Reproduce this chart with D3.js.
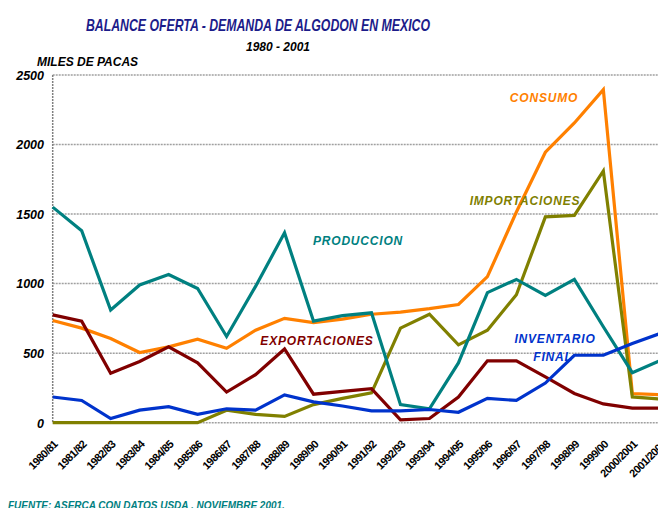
<!DOCTYPE html>
<html>
<head>
<meta charset="utf-8">
<script src="https://cdn.jsdelivr.net/npm/d3@7"></script>
<style>
  body { margin: 0; background: #fff; }
  svg { display: block; font-family: "Liberation Sans", Arial, sans-serif; }
</style>
</head>
<body>
<svg id="chart" width="658" height="508"></svg>
<script>
// ciclos agricolas
var ciclos = ["1980/81","1981/82","1982/83","1983/84","1984/85","1985/86","1986/87","1987/88",
  "1988/89","1989/90","1990/91","1991/92","1992/93","1993/94","1994/95","1995/96","1996/97",
  "1997/98","1998/99","1999/00","2000/2001","2001/2002"];

// miles de pacas
var produccion    = [1550,1380,810,990,1065,965,620,980,1365,730,770,790,130,100,430,935,1030,915,1030,690,360,450];
var consumo       = [735,680,605,505,545,600,535,665,750,720,745,780,795,820,850,1050,1515,1945,2155,2395,210,200];
var importaciones = [0,0,0,0,0,0,90,60,45,130,175,215,680,780,560,665,920,1480,1490,1810,185,170];
var exportaciones = [775,730,355,440,545,430,220,345,530,205,225,245,20,30,185,445,445,330,210,135,105,105];
var inventario    = [185,160,30,90,115,60,100,90,200,150,120,85,85,95,75,175,160,285,485,485,570,645];

var yTicks = [0,500,1000,1500,2000,2500];

var svg = d3.select("#chart");

var x = d3.scalePoint().domain(ciclos).range([52.7, 661.3]);
var y = d3.scaleLinear().domain([0, 2500]).range([422.7, 75]);

// titulos
svg.append("text")
  .attr("x", 258).attr("y", 30.5)
  .attr("text-anchor", "middle")
  .style("font-size", "17px").style("font-weight", "bold").style("font-style", "italic")
  .style("fill", "#1c1c8a")
  .attr("textLength", 344).attr("lengthAdjust", "spacingAndGlyphs")
  .text("BALANCE OFERTA - DEMANDA DE ALGODON EN MEXICO");

svg.append("text")
  .attr("x", 278).attr("y", 50.5)
  .attr("text-anchor", "middle")
  .style("font-size", "12px").style("font-weight", "bold").style("font-style", "italic")
  .text("1980 - 2001");

svg.append("text")
  .attr("x", 37).attr("y", 66)
  .style("font-size", "12px").style("font-weight", "bold").style("font-style", "italic")
  .text("MILES DE PACAS");

// rejilla
var grid = svg.append("g");
grid.selectAll("line")
  .data(yTicks)
  .enter().append("line")
  .attr("x1", 52.7).attr("x2", 658)
  .attr("y1", function (d) { return y(d); })
  .attr("y2", function (d) { return y(d); })
  .style("stroke", "#a0a0a0").style("stroke-width", 1.5)
  .style("stroke-dasharray", "2,1");

grid.append("line")
  .attr("x1", 52.7).attr("x2", 52.7)
  .attr("y1", y(2500)).attr("y2", y(0))
  .style("stroke", "#808080").style("stroke-width", 1.5)
  .style("stroke-dasharray", "2,1");

// eje y
var yAxis = svg.append("g")
  .attr("transform", "translate(44,0)")
  .call(d3.axisLeft(y).tickValues(yTicks).tickFormat(d3.format("d")).tickSize(0).tickPadding(0));
yAxis.select(".domain").remove();
yAxis.selectAll("text")
  .attr("dy", "0.35em")
  .style("font-family", "'Liberation Sans', Arial, sans-serif")
  .style("font-size", "12.5px").style("font-weight", "bold").style("font-style", "italic")
  .style("fill", "#000");

// eje x
var xAxis = svg.append("g")
  .attr("transform", "translate(0,440)")
  .call(d3.axisBottom(x).tickSize(0).tickPadding(0));
xAxis.select(".domain").remove();
xAxis.selectAll("text")
  .attr("text-anchor", "end")
  .attr("y", 0)
  .attr("dy", "0")
  .attr("transform", "translate(5,5) rotate(-45)")
  .style("font-family", "'Liberation Sans', Arial, sans-serif")
  .style("font-size", "11px").style("font-weight", "bold")
  .style("letter-spacing", "-0.6px")
  .style("fill", "#000");

// series
var series = [
  { name: "consumo", values: consumo, color: "#ff8000" },
  { name: "importaciones", values: importaciones, color: "#808000" },
  { name: "produccion", values: produccion, color: "#008080" },
  { name: "exportaciones", values: exportaciones, color: "#800000" },
  { name: "inventario", values: inventario, color: "#0033cc" }
];

var line = d3.line()
  .x(function (d, i) { return x(ciclos[i]); })
  .y(function (d) { return y(d); });

svg.append("g").selectAll("path")
  .data(series)
  .enter().append("path")
  .attr("d", function (d) { return line(d.values); })
  .style("fill", "none")
  .style("stroke", function (d) { return d.color; })
  .style("stroke-width", 3.2)
  .style("stroke-linejoin", "miter");

// etiquetas de series
var etiquetas = [
  { t: "CONSUMO", x: 544, y: 102, c: "#ff8000" },
  { t: "IMPORTACIONES", x: 525, y: 205, c: "#808000" },
  { t: "PRODUCCION", x: 358, y: 245, c: "#008080" },
  { t: "EXPORTACIONES", x: 317, y: 345, c: "#800000" },
  { t: "INVENTARIO", x: 555, y: 343, c: "#0033cc" },
  { t: "FINAL", x: 553, y: 361, c: "#0033cc" }
];

svg.append("g").selectAll("text")
  .data(etiquetas)
  .enter().append("text")
  .attr("x", function (d) { return d.x; })
  .attr("y", function (d) { return d.y; })
  .attr("text-anchor", "middle")
  .style("font-size", "12px").style("font-weight", "bold").style("font-style", "italic")
  .style("letter-spacing", "0.8px")
  .style("fill", function (d) { return d.c; })
  .text(function (d) { return d.t; });

// fuente
svg.append("text")
  .attr("x", 8).attr("y", 509)
  .style("font-size", "10px").style("font-weight", "bold").style("font-style", "italic")
  .style("fill", "#008080")
  .text("FUENTE: ASERCA CON DATOS USDA , NOVIEMBRE 2001.");
</script>
</body>
</html>
